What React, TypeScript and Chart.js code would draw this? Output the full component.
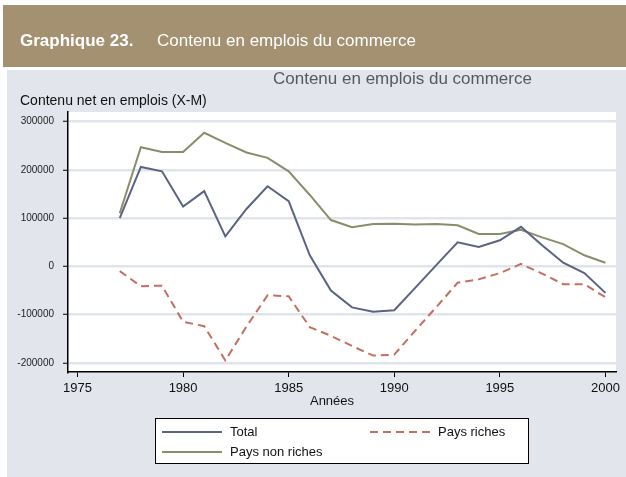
import React, { useEffect, useRef } from "react";
import { Chart, registerables } from "chart.js";

Chart.register(...registerables);

const years = [1977, 1978, 1979, 1980, 1981, 1982, 1983, 1984, 1985, 1986, 1987, 1988, 1989, 1990, 1991, 1992, 1993, 1994, 1995, 1996, 1997, 1998, 1999, 2000];
const total = [100000, 206000, 197000, 124000, 156000, 62000, 119000, 166000, 135000, 23000, -50000, -85000, -94000, -91000, -44000, 3000, 50000, 40000, 54000, 82000, 44000, 7500, -14000, -55000];
const paysRiches = [-10000, -41000, -40000, -115000, -124000, -195000, -125000, -60000, -62000, -126000, -144000, -165000, -185000, -183000, -133000, -84000, -34000, -27000, -14000, 5000, -15000, -37000, -37000, -64000];
const paysNonRiches = [110000, 247000, 237000, 237000, 277000, 256000, 236000, 225000, 197000, 148000, 96000, 81000, 88000, 88500, 87000, 88000, 85000, 67000, 67000, 76000, 60000, 46000, 23000, 7500];
const xTicks = [1975, 1980, 1985, 1990, 1995, 2000];
const yTicks = [-200000, -100000, 0, 100000, 200000, 300000];

const headerBold = "Graphique 23.";
const headerTitle = "Contenu en emplois du commerce";
const chartTitle = "Contenu en emplois du commerce";
const yTitle = "Contenu net en emplois (X-M)";
const xTitle = "Années";

const FONT = "'Liberation Sans', Arial, sans-serif";

const decorPlugin = {
  id: "decor",
  beforeDraw(chart: any) {
    const ctx = chart.ctx;
    const ca = chart.chartArea;
    ctx.save();
    ctx.fillStyle = "#ffffff";
    ctx.fillRect(0, 0, chart.width, chart.height);
    ctx.fillStyle = "#A39172";
    ctx.fillRect(3, 5, chart.width - 3, 62);
    ctx.fillStyle = "#E2E5EC";
    ctx.fillRect(7, 70, chart.width - 7, chart.height - 70);
    ctx.fillStyle = "#ffffff";
    ctx.fillRect(ca.left, ca.top, ca.right - ca.left, ca.bottom - ca.top);

    ctx.textBaseline = "alphabetic";
    ctx.textAlign = "left";
    ctx.fillStyle = "#ffffff";
    ctx.font = "bold 17px " + FONT;
    ctx.fillText(headerBold, 20, 46);
    ctx.font = "17px " + FONT;
    ctx.fillText(headerTitle, 157, 46);

    ctx.fillStyle = "#555a60";
    ctx.font = "17px " + FONT;
    ctx.fillText(chartTitle, 273, 84);

    ctx.fillStyle = "#111111";
    ctx.font = "14px " + FONT;
    ctx.fillText(yTitle, 20, 105);
    ctx.restore();
  },
  afterDraw(chart: any) {
    const ctx = chart.ctx;
    ctx.save();
    // x axis title
    ctx.fillStyle = "#111111";
    ctx.font = "13px " + FONT;
    ctx.textAlign = "center";
    ctx.textBaseline = "alphabetic";
    ctx.fillText(xTitle, 332, 405);

    // legend box
    const bx = 155, by = 418, bw = 373, bh = 45;
    ctx.fillStyle = "#ffffff";
    ctx.fillRect(bx, by, bw, bh);
    ctx.strokeStyle = "#000000";
    ctx.lineWidth = 1;
    ctx.strokeRect(bx + 0.5, by + 0.5, bw, bh);

    const slots = [
      [162, 432],
      [370, 432],
      [162, 452],
    ];
    chart.data.datasets.forEach((ds: any, i: number) => {
      const [sx, sy] = slots[i];
      ctx.beginPath();
      ctx.strokeStyle = ds.borderColor;
      ctx.lineWidth = 2;
      ctx.setLineDash(ds.borderDash || []);
      ctx.moveTo(sx, sy);
      ctx.lineTo(sx + 60, sy);
      ctx.stroke();
      ctx.setLineDash([]);
      ctx.fillStyle = "#111111";
      ctx.font = "13px " + FONT;
      ctx.textAlign = "left";
      ctx.textBaseline = "middle";
      ctx.fillText(ds.label, sx + 68, sy);
    });
    ctx.restore();
  },
};

export default function App() {
  const ref = useRef<HTMLCanvasElement | null>(null);

  useEffect(() => {
    if (!ref.current) return;
    const mk = (vals: number[]) => years.map((y, i) => ({ x: y, y: vals[i] }));
    const chart = new Chart(ref.current, {
      type: "line",
      data: {
        datasets: [
          {
            label: "Total",
            data: mk(total),
            borderColor: "#5B6382",
            borderWidth: 2,
            pointRadius: 0,
            tension: 0,
          },
          {
            label: "Pays riches",
            data: mk(paysRiches),
            borderColor: "#C2705F",
            borderWidth: 2,
            borderDash: [8, 5],
            pointRadius: 0,
            tension: 0,
          },
          {
            label: "Pays non riches",
            data: mk(paysNonRiches),
            borderColor: "#8A8D6B",
            borderWidth: 2,
            pointRadius: 0,
            tension: 0,
          },
        ],
      },
      options: {
        responsive: false,
        animation: false,
        devicePixelRatio: 1,
        layout: { padding: { top: 112, left: 0, right: 10, bottom: 0 } },
        plugins: {
          legend: { display: false },
          title: { display: false },
          tooltip: { enabled: false },
        },
        scales: {
          x: {
            type: "linear",
            min: 1974.55,
            max: 2000.5,
            afterFit: (s: any) => {
              s.height = 105;
            },
            afterBuildTicks: (s: any) => {
              s.ticks = xTicks.map((v) => ({ value: v }));
            },
            grid: {
              drawOnChartArea: false,
              drawTicks: true,
              tickLength: 5,
              tickColor: "#000000",
              tickWidth: 1,
            },
            border: { display: true, color: "#000000", width: 1.5 },
            ticks: {
              autoSkip: false,
              maxRotation: 0,
              padding: 4,
              color: "#111111",
              font: { family: FONT, size: 13 },
              callback: (v: any) => String(v),
            },
          },
          y: {
            type: "linear",
            min: -219000,
            max: 320000,
            afterFit: (s: any) => {
              s.width = 68;
            },
            afterBuildTicks: (s: any) => {
              s.ticks = yTicks.map((v) => ({ value: v }));
            },
            grid: {
              color: "#E0E4EB",
              lineWidth: 2.5,
              drawTicks: true,
              tickLength: 5,
              tickColor: "#000000",
              tickWidth: 1,
            },
            border: { display: true, color: "#000000", width: 1.5 },
            ticks: {
              autoSkip: false,
              padding: 9,
              color: "#222222",
              font: { family: FONT, size: 10 },
              callback: (v: any) => String(v),
            },
          },
        },
      },
      plugins: [decorPlugin],
    });
    return () => chart.destroy();
  }, []);

  return (
    <div style={{ position: "fixed", left: 0, top: 0, width: 626, height: 477 }}>
      <canvas ref={ref} width={626} height={477} style={{ width: 626, height: 477, display: "block" }} />
    </div>
  );
}
